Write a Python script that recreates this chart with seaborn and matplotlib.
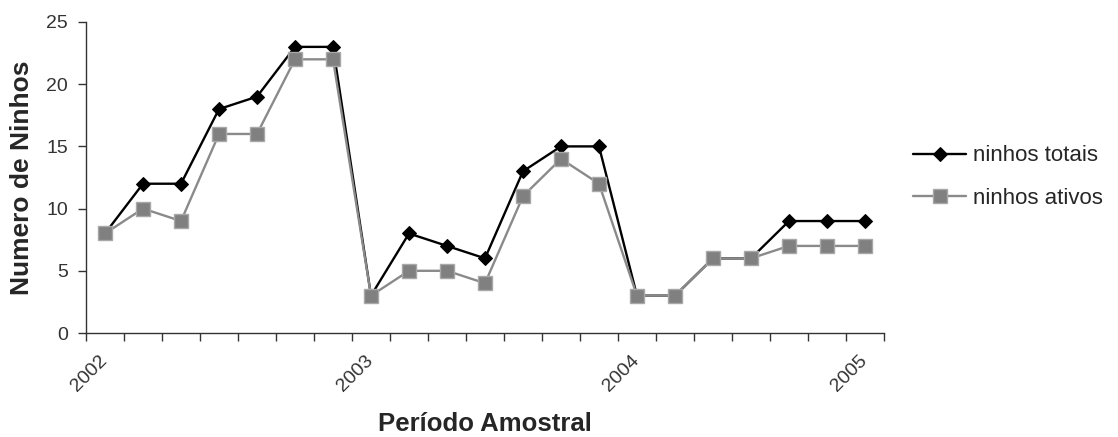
import numpy as np
import pandas as pd
import matplotlib
matplotlib.use('Agg')
import matplotlib.pyplot as plt
import seaborn as sns

# Sampling periods (21 samples, 2002 - 2005)
periods = list(range(21))
year_labels = {0: '2002', 7: '2003', 14: '2004', 20: '2005'}

ninhos_totais = [8, 12, 12, 18, 19, 23, 23, 3, 8, 7, 6, 13, 15, 15, 3, 3, 6, 6, 9, 9, 9]
ninhos_ativos = [8, 10, 9, 16, 16, 22, 22, 3, 5, 5, 4, 11, 14, 12, 3, 3, 6, 6, 7, 7, 7]

df = pd.DataFrame({'periodo': periods,
                   'totais': ninhos_totais,
                   'ativos': ninhos_ativos})

sns.set_style('white')
plt.rcParams['font.family'] = ['Liberation Sans', 'DejaVu Sans']

fig = plt.figure(figsize=(11.18, 4.37), dpi=100)
ax = fig.add_axes([86 / 1118, 1 - 333 / 437, (884 - 86) / 1118, (333 - 22) / 437])

sns.lineplot(data=df, x='periodo', y='totais', ax=ax, color='black', lw=1.7,
             marker='D', markersize=7, markeredgecolor='black', label='ninhos totais')
sns.lineplot(data=df, x='periodo', y='ativos', ax=ax, color='#8a8a8a', lw=1.7,
             marker='s', markersize=9.5, markerfacecolor='#808080',
             markeredgecolor='#a8a8a8', markeredgewidth=1, label='ninhos ativos')

# category axis: ticks between categories, labels at selected points
ax.set_xlim(-0.5, 20.5)
ax.set_ylim(0, 25)
ax.set_yticks([0, 5, 10, 15, 20, 25])
ax.set_xticks(np.arange(-0.5, 21, 1))
ax.set_xticklabels([])
ax.set_xticks(list(year_labels.keys()), minor=True)
ax.set_xticklabels(list(year_labels.values()), minor=True, rotation=45,
                   ha='right', va='center', rotation_mode='anchor')
ax.tick_params(axis='x', which='major', direction='out', length=6, width=1, color='#333333', bottom=True)
ax.tick_params(axis='x', which='minor', length=0, pad=18, labelsize=14, labelcolor='#333333')
ax.tick_params(axis='y', direction='out', length=6, width=1, color='#333333', left=True,
               labelsize=14, labelcolor='#333333', pad=7)

sns.despine(ax=ax)
for s in ['left', 'bottom']:
    ax.spines[s].set_color('#333333')
    ax.spines[s].set_linewidth(1)

ax.set_ylabel('Numero de Ninhos', fontsize=19, fontweight='bold', labelpad=9)
ax.set_xlabel('Período Amostral', fontsize=18.5, fontweight='bold', va='baseline')
ax.xaxis.set_label_coords(0.5, -(431 - 333) / (333 - 22))

ax.get_legend().remove()
handles, labels = ax.get_legend_handles_labels()
fig.legend(handles, labels, loc='center left', bbox_to_anchor=(913 / 1118, 1 - 177 / 437),
           frameon=False, fontsize=16, handlelength=2.4, handletextpad=0.3,
           labelspacing=0.95, borderpad=0, borderaxespad=0)

fig.savefig('out.png', dpi=100)
